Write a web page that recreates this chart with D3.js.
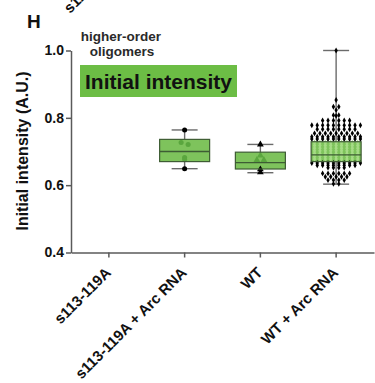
<!DOCTYPE html>
<html>
<head>
<meta charset="utf-8">
<script src="https://cdn.jsdelivr.net/npm/d3@7"></script>
<style>
  body { margin: 0; background: #fff; }
  svg { display: block; font-family: "Liberation Sans", Arial, sans-serif; }
</style>
</head>
<body>
<div id="chart"></div>
<script>
// categories and box stats
const categories = ['s113-119A', 's113-119A + Arc RNA', 'WT', 'WT + Arc RNA'];
const boxMin = [null, 0.649, 0.637, 0.603];
const boxQ1 = [null, 0.670, 0.648, 0.670];
const boxMedian = [null, 0.700, 0.667, 0.690];
const boxQ3 = [null, 0.736, 0.698, 0.729];
const boxMax = [null, 0.764, 0.721, 1.000];
const yTicks = [0.4, 0.6, 0.8, 1.0];

// individual measurements
const pointsMut = [];
const pointsMutArc = [0.764, 0.727, 0.721, 0.682, 0.676, 0.649];
const pointsWT = [0.721, 0.688, 0.675, 0.675, 0.647, 0.638];
const pointsWTArc = [
  1.000, 0.853, 0.833, 0.833, 0.823, 0.808, 0.808, 0.806,
  0.792, 0.792, 0.792, 0.792, 0.792, 0.792,
  0.778, 0.778, 0.778, 0.778, 0.778, 0.778, 0.778, 0.778, 0.778, 0.778,
  0.766, 0.766, 0.766, 0.766, 0.766, 0.766, 0.766, 0.766,
  0.754, 0.754, 0.754, 0.754, 0.754, 0.754, 0.754, 0.754, 0.754,
  0.744, 0.744, 0.744, 0.744, 0.744, 0.744, 0.744, 0.744, 0.744, 0.744,
  0.737, 0.737, 0.737, 0.737, 0.737, 0.737, 0.737, 0.737, 0.737, 0.737,
  0.726, 0.726, 0.726, 0.726, 0.726, 0.726, 0.726, 0.726, 0.726,
  0.718, 0.718, 0.718, 0.718, 0.718, 0.718, 0.718, 0.718, 0.718,
  0.710, 0.710, 0.710, 0.710, 0.710, 0.710, 0.710, 0.710, 0.710,
  0.702, 0.702, 0.702, 0.702, 0.702, 0.702, 0.702, 0.702, 0.702,
  0.694, 0.694, 0.694, 0.694, 0.694, 0.694, 0.694, 0.694, 0.694,
  0.686, 0.686, 0.686, 0.686, 0.686, 0.686, 0.686, 0.686, 0.686,
  0.678, 0.678, 0.678, 0.678, 0.678, 0.678, 0.678, 0.678, 0.678,
  0.666, 0.666, 0.666, 0.666, 0.666, 0.666, 0.666, 0.666, 0.666, 0.666,
  0.659, 0.659, 0.659, 0.659, 0.659, 0.659, 0.659, 0.659,
  0.652, 0.652, 0.652, 0.652,
  0.635, 0.635, 0.635, 0.635, 0.635, 0.635,
  0.625, 0.625, 0.625, 0.625, 0.625,
  0.615, 0.615, 0.615, 0.615,
  0.604, 0.604
];
const groupPoints = [pointsMut, pointsMutArc, pointsWT, pointsWTArc];
const groupSymbols = [d3.symbolCircle, d3.symbolCircle, d3.symbolTriangle, d3.symbolDiamond];
const insideColors = ['#5aa63e', '#5aa63e', '#5aa63e', '#a6dc86'];
// pixel bin used to put points in the same row (0 = identical values only)
const rowBins = [4, 4, 4, 0];

const width = 375, height = 383;
const svg = d3.select('#chart').append('svg')
  .attr('width', width)
  .attr('height', height);

const x = d3.scaleBand().domain(categories).range([71, 374]);
const y = d3.scaleLinear().domain([0.4, 1.0]).range([252.5, 50.5]);
const cx = c => x(c) + x.bandwidth() / 2;

// text bits
svg.append('text')
  .attr('transform', 'translate(70,14) rotate(-45)')
  .attr('font-size', 15).attr('font-weight', 'bold').attr('fill', '#111')
  .text('s113-119A + Arc RNA');

svg.append('text')
  .attr('x', 27).attr('y', 28)
  .attr('font-size', 19).attr('font-weight', 'bold').attr('fill', '#111')
  .text('H');

svg.append('text')
  .attr('x', 121).attr('y', 41).attr('text-anchor', 'middle')
  .attr('font-size', 13.5).attr('font-weight', 'bold').attr('fill', '#2a2a2a')
  .text('higher-order');
svg.append('text')
  .attr('x', 122).attr('y', 56).attr('text-anchor', 'middle')
  .attr('font-size', 13.5).attr('font-weight', 'bold').attr('fill', '#2a2a2a')
  .text('oligomers');

svg.append('rect')
  .attr('x', 80).attr('y', 65).attr('width', 157).attr('height', 32)
  .attr('fill', '#6cbd45');
svg.append('text')
  .attr('x', 158.5).attr('y', 88.5).attr('text-anchor', 'middle')
  .attr('font-size', 21).attr('font-weight', 'bold').attr('fill', '#111')
  .text('Initial intensity');

svg.append('text')
  .attr('transform', 'translate(28,151) rotate(-90)')
  .attr('text-anchor', 'middle')
  .attr('font-size', 16).attr('font-weight', 'bold').attr('fill', '#111')
  .text('Initial intensity (A.U.)');

// axes
svg.append('g')
  .attr('transform', 'translate(71,0)')
  .call(d3.axisLeft(y).tickValues(yTicks).tickFormat(d3.format('.1f'))
    .tickSize(5).tickSizeOuter(0).tickPadding(2));

const xAxis = svg.append('g')
  .attr('transform', `translate(0,${y(0.4)})`)
  .call(d3.axisBottom(x).tickSize(5).tickSizeOuter(0));
xAxis.selectAll('text').remove();
xAxis.selectAll('.tick').append('text')
  .attr('class', 'xlab')
  .attr('transform', 'translate(3,21) rotate(-45)')
  .attr('text-anchor', 'end')
  .text(d => d);

svg.selectAll('.domain, .tick line')
  .attr('stroke', '#5a5a5a').attr('stroke-width', 1.5);
svg.selectAll('.tick text')
  .attr('font-size', 14).attr('font-weight', 'bold')
  .attr('font-family', '"Liberation Sans", Arial, sans-serif')
  .attr('fill', '#111');
svg.selectAll('.xlab').attr('font-size', 15);

// boxes
const plot = svg.append('g');
categories.forEach((c, i) => {
  if (boxMin[i] == null) return;
  const xc = cx(c);
  const hw = 25, cap = 13;
  plot.append('line')
    .attr('x1', xc).attr('x2', xc)
    .attr('y1', y(boxMin[i])).attr('y2', y(boxMax[i]))
    .attr('stroke', '#6b6b6b').attr('stroke-width', 1.4);
  [boxMin[i], boxMax[i]].forEach(v => {
    plot.append('line')
      .attr('x1', xc - cap).attr('x2', xc + cap)
      .attr('y1', y(v)).attr('y2', y(v))
      .attr('stroke', '#6b6b6b').attr('stroke-width', 1.4);
  });
  plot.append('rect')
    .attr('x', xc - hw).attr('width', hw * 2)
    .attr('y', y(boxQ3[i])).attr('height', y(boxQ1[i]) - y(boxQ3[i]))
    .attr('fill', '#7ec35c');
});

// points: grouped into rows, laid out side by side
const spacing = 5.4;
categories.forEach((c, i) => {
  const pts = groupPoints[i];
  if (!pts.length) return;
  const rows = d3.group(pts, v => rowBins[i] ? Math.round(y(v) / rowBins[i]) : v);
  const placed = [];
  rows.forEach(vals => {
    vals.forEach((v, k) => {
      placed.push({ v, dx: (k - (vals.length - 1) / 2) * (i === 3 ? spacing : 7) });
    });
  });
  const sym = d3.symbol().type(groupSymbols[i]).size(i === 3 ? 10 : 20);
  plot.selectAll(null)
    .data(placed)
    .enter().append('path')
      .attr('d', sym)
      .attr('transform', d => `translate(${cx(c) + d.dx},${y(d.v)})`)
      .attr('fill', d => (d.v > boxQ1[i] && d.v < boxQ3[i]) ? insideColors[i] : '#000');
});

// median lines and box outlines on top
categories.forEach((c, i) => {
  if (boxMedian[i] == null) return;
  const xc = cx(c);
  plot.append('line')
    .attr('x1', xc - 25).attr('x2', xc + 25)
    .attr('y1', y(boxMedian[i])).attr('y2', y(boxMedian[i]))
    .attr('stroke', '#3e5c34').attr('stroke-width', 1.4);
  plot.append('rect')
    .attr('x', xc - 25).attr('width', 50)
    .attr('y', y(boxQ3[i])).attr('height', y(boxQ1[i]) - y(boxQ3[i]))
    .attr('fill', 'none').attr('stroke', '#3e5c34').attr('stroke-width', 1.2);
});
</script>
</body>
</html>
